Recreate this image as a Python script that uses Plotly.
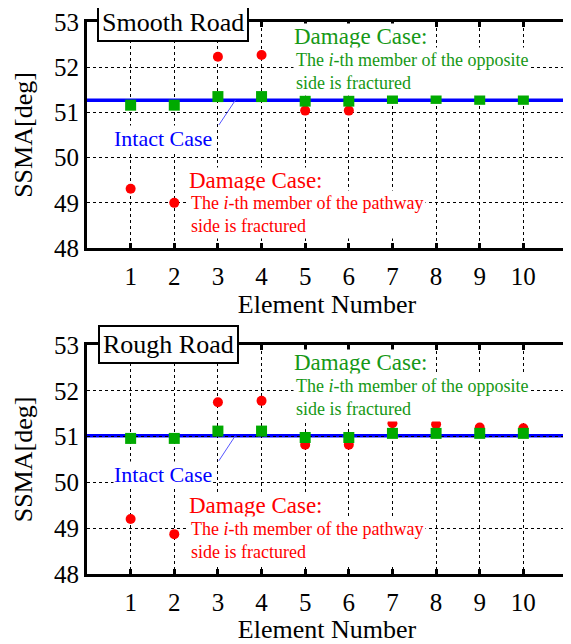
import plotly.graph_objects as go

elements = [1, 2, 3, 4, 5, 6, 7, 8, 9, 10]

smooth_intact = 51.27
smooth_opposite = [51.16, 51.16, 51.35, 51.35, 51.25, 51.25, 51.31, 51.31, 51.29, 51.29]
smooth_pathway = [49.31, 49.00, 52.23, 52.27, 51.04, 51.04, 51.31, 51.61, 51.50, 51.48]

rough_intact = 51.02
rough_opposite = [50.96, 50.96, 51.12, 51.12, 50.98, 50.98, 51.07, 51.07, 51.07, 51.07]
rough_pathway = [49.20, 48.87, 51.75, 51.78, 50.82, 50.82, 51.29, 51.27, 51.20, 51.18]

y_ticks = [48, 49, 50, 51, 52, 53]

panels = [
    ("Smooth Road", 0.18, smooth_intact, smooth_opposite, smooth_pathway, "x", "y"),
    ("Rough Road", 0.17, rough_intact, rough_opposite, rough_pathway, "x2", "y2"),
]

FONT = "Liberation Serif"
RED = "#ff0000"
GREEN = "#00aa00"
GREEN_TXT = "#169816"
BLUE = "#0000ff"

fig = go.Figure()
annotations = []
shapes = []

for i, (name, bx, intact, opp, path, xr, yr) in enumerate(panels):
    shapes.append(dict(type="line", xref=f"{xr} domain", yref=yr, x0=0, x1=1,
                       y0=intact, y1=intact, line=dict(color=BLUE, width=3.5),
                       layer="below"))
    fig.add_trace(go.Scatter(x=elements, y=path, mode="markers", xaxis=xr, yaxis=yr,
                             marker=dict(symbol="circle", size=10, color=RED),
                             showlegend=False, cliponaxis=False))
    fig.add_trace(go.Scatter(x=elements, y=opp, mode="markers", xaxis=xr, yaxis=yr,
                             marker=dict(symbol="square", size=11, color=GREEN),
                             showlegend=False, cliponaxis=False))
    # panel label box
    annotations.append(dict(x=bx, y=1.0, xref=f"{xr} domain", yref=f"{yr} domain",
                            text=name, showarrow=False, xanchor="center", yanchor="middle",
                            font=dict(family=FONT, size=26, color="black"),
                            bgcolor="white", bordercolor="black", borderwidth=2, borderpad=3))
    # Intact case label and pointer
    annotations.append(dict(x=1.74, y=intact - 0.85, xref=xr, yref=yr, text="Intact Case",
                            showarrow=False, xanchor="center", yanchor="middle",
                            font=dict(family=FONT, size=22, color=BLUE),
                            bgcolor="white", borderpad=0))
    annotations.append(dict(x=3.40, y=intact, ax=3.0, ay=intact - 0.58,
                            xref=xr, yref=yr, axref=xr, ayref=yr, text="",
                            showarrow=True, arrowhead=0, arrowwidth=1, arrowcolor="#5555ff"))
    # opposite side damage (green)
    annotations.append(dict(x=4.72, y=52.67 if i == 0 else 52.61, xref=xr, yref=yr,
                            text="Damage Case:", showarrow=False, xanchor="left", yanchor="middle",
                            font=dict(family=FONT, size=23, color=GREEN_TXT),
                            bgcolor="white", borderpad=0))
    annotations.append(dict(x=4.72, y=51.9 if i == 0 else 51.85, xref=xr, yref=yr,
                            text="The <i>i</i>-th member of the opposite<br>side is fractured",
                            showarrow=False, xanchor="left", yanchor="middle", align="left",
                            font=dict(family=FONT, size=18, color=GREEN_TXT),
                            bgcolor="white", borderpad=2))
    # pathway side damage (red)
    annotations.append(dict(x=2.32, y=49.5, xref=xr, yref=yr,
                            text="Damage Case:", showarrow=False, xanchor="left", yanchor="middle",
                            font=dict(family=FONT, size=23, color=RED),
                            bgcolor="white", borderpad=0))
    annotations.append(dict(x=2.32, y=48.74, xref=xr, yref=yr,
                            text="The <i>i</i>-th member of the pathway<br>side is fractured",
                            showarrow=False, xanchor="left", yanchor="middle", align="left",
                            font=dict(family=FONT, size=18, color=RED),
                            bgcolor="white", borderpad=2))

axis_common = dict(showline=True, linewidth=3, linecolor="black",
                   showgrid=True, gridcolor="black", gridwidth=1, griddash="dot",
                   zeroline=False, automargin=False,
                   tickfont=dict(family=FONT, size=25, color="black"))

xaxis = dict(axis_common, range=[0, 11], tickmode="array", tickvals=elements,
             mirror="ticks", ticks="inside", ticklen=5, tickwidth=2.5, tickcolor="black",
             ticklabelstandoff=4,
             title=dict(text="Element Number", font=dict(family=FONT, size=26, color="black"),
                        standoff=2))
yaxis = dict(axis_common, range=[48, 53], tickmode="array", tickvals=y_ticks,
             mirror=True, ticks="", ticklabelstandoff=0,
             title=dict(text="SSMA[deg]", font=dict(family=FONT, size=26, color="black"),
                        standoff=14))

# the page body has an 8px margin, so the figure is sized to fit the window
fig.update_layout(
    width=563, height=636,
    margin=dict(l=79, r=4, t=14, b=70),
    paper_bgcolor="white", plot_bgcolor="white",
    xaxis=dict(xaxis, domain=[0, 1], anchor="y"),
    yaxis=dict(yaxis, domain=[0.5905, 1.0], anchor="x"),
    xaxis2=dict(xaxis, domain=[0, 1], anchor="y2"),
    yaxis2=dict(yaxis, domain=[0.0, 0.4149], anchor="x2"),
    annotations=annotations,
    shapes=shapes,
    showlegend=False,
)

fig.write_html("out.html")
